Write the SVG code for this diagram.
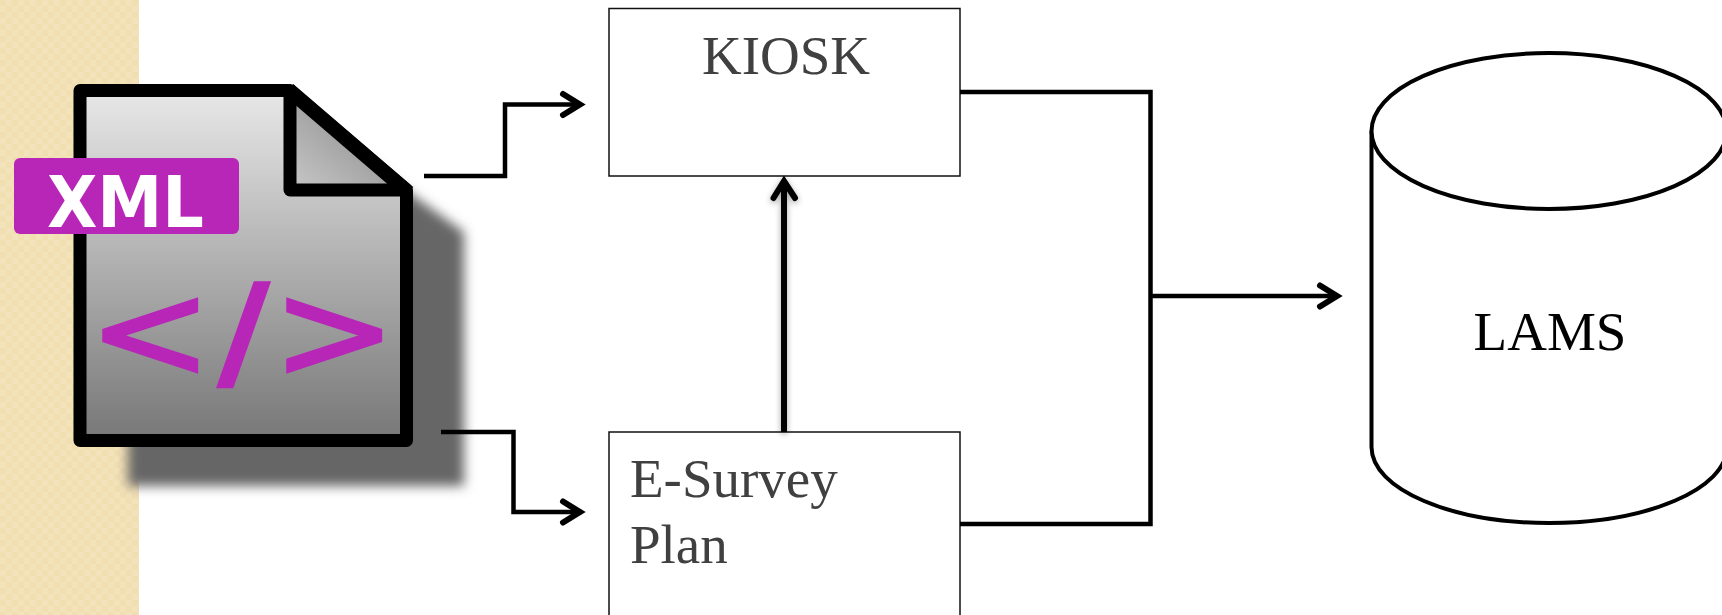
<svg xmlns="http://www.w3.org/2000/svg" width="1722" height="615" viewBox="0 0 1722 615">
<style>
.ln{fill:none;stroke:#000;stroke-width:4.500}
.hd{fill:none;stroke:#000;stroke-width:6;stroke-linecap:round;stroke-linejoin:miter}
.box{fill:#fff;stroke:#111;stroke-width:1.500}
.lbl{font-family:"Liberation Serif","Times New Roman",serif;font-size:55px;fill:#404040}
.glyph{font-family:"DejaVu Sans",sans-serif;fill:#b826b8;stroke:#b826b8}
</style>
<defs>
<pattern id="weave" width="12" height="12" patternUnits="userSpaceOnUse">
<rect width="12" height="12" fill="#f3e3ba"/>
<rect x="0" y="0" width="6" height="6" fill="#f1dfb2"/>
<rect x="6" y="6" width="6" height="6" fill="#f1dfb2"/>
</pattern>
<linearGradient id="sheet" x1="0" y1="0" x2="0" y2="1">
<stop offset="0" stop-color="#e8e8e8"/><stop offset="1" stop-color="#777"/>
</linearGradient>
<linearGradient id="fold" x1="1" y1="0" x2="0" y2="1">
<stop offset="0" stop-color="#7c7c7c"/><stop offset="1" stop-color="#c8c8c8"/>
</linearGradient>
<filter id="blur" x="-10%" y="-10%" width="120%" height="120%"><feGaussianBlur stdDeviation="6"/></filter>
<filter id="soft" x="-5%" y="-5%" width="110%" height="110%"><feGaussianBlur stdDeviation="0.700"/></filter>
<filter id="arrowGlow" x="-200%" y="-10%" width="500%" height="120%"><feDropShadow dx="0" dy="2" stdDeviation="3" flood-color="#000" flood-opacity="0.35"/></filter>
</defs>
<rect id="panel" x="0" y="0" width="139" height="615" fill="url(#weave)"/>
<g id="xml-file">
<path d="M128 140H336L464 232V486H128Z" fill="#666" filter="url(#blur)"/>
<g filter="url(#soft)">
<path d="M80 90.500H288L406.500 192V440.500H80Z" fill="url(#sheet)" stroke="#000" stroke-width="13" stroke-linejoin="round"/>
<path d="M290 90.500V190H406.500L290 90.500Z" fill="url(#fold)" stroke="#000" stroke-width="13" stroke-linejoin="round"/>
<path d="M288.500 89.500L408.500 192.500" fill="none" stroke="#000" stroke-width="14.500"/>
<rect x="14" y="158" width="225" height="76" rx="6" fill="#b826b8"/>
<text x="47" y="227" font-family="DejaVu Sans,sans-serif" font-weight="700" font-size="71" fill="#fff" textLength="157" lengthAdjust="spacingAndGlyphs">XML</text>
<text class="glyph" transform="translate(88 377.500) scale(.97 .88)" font-size="153" stroke-width="3">&lt;</text>
<text class="glyph" transform="translate(219.500 374) scale(1.15 1)" font-size="124" stroke-width="4.500">/</text>
<text class="glyph" transform="translate(272 377.500) scale(.97 .88)" font-size="153" stroke-width="3">&gt;</text>
</g>
</g>
<g id="kiosk">
<rect class="box" x="609" y="8.500" width="351" height="167.500"/>
<text class="lbl" x="786" y="74" text-anchor="middle">KIOSK</text>
</g>
<g id="e-survey-plan">
<rect class="box" x="609" y="432" width="351" height="190"/>
<text class="lbl" x="630" y="497">E-Survey</text>
<text class="lbl" x="630" y="563">Plan</text>
</g>
<g id="lams">
<path d="M1371.500 131V447C1371.500 489 1451 523 1549 523S1727 489 1727 447V131" fill="#fff" stroke="#000" stroke-width="4"/>
<ellipse cx="1549" cy="131" rx="177.500" ry="78" fill="#fff" stroke="#000" stroke-width="4"/>
<text class="lbl" x="1550" y="350" text-anchor="middle" style="fill:#000">LAMS</text>
</g>
<g id="connectors">
<path class="ln" d="M424 176H505V104.500H580"/>
<path class="hd" d="M563 94L580 104.500L563 115"/>
<path class="ln" d="M441 432H513.500V512H580"/>
<path class="hd" d="M563 501.500L580 512L563 522.500"/>
<g filter="url(#arrowGlow)">
<path d="M784 432V182" fill="none" stroke="#000" stroke-width="6"/>
<path class="hd" d="M773.500 198L784 181L795 198"/>
</g>
<path class="ln" d="M960 92H1150.500V524H960"/>
<path class="ln" d="M1150.500 296H1337"/>
<path class="hd" d="M1320 285.500L1337 296L1320 306.500"/>
</g>
</svg>
